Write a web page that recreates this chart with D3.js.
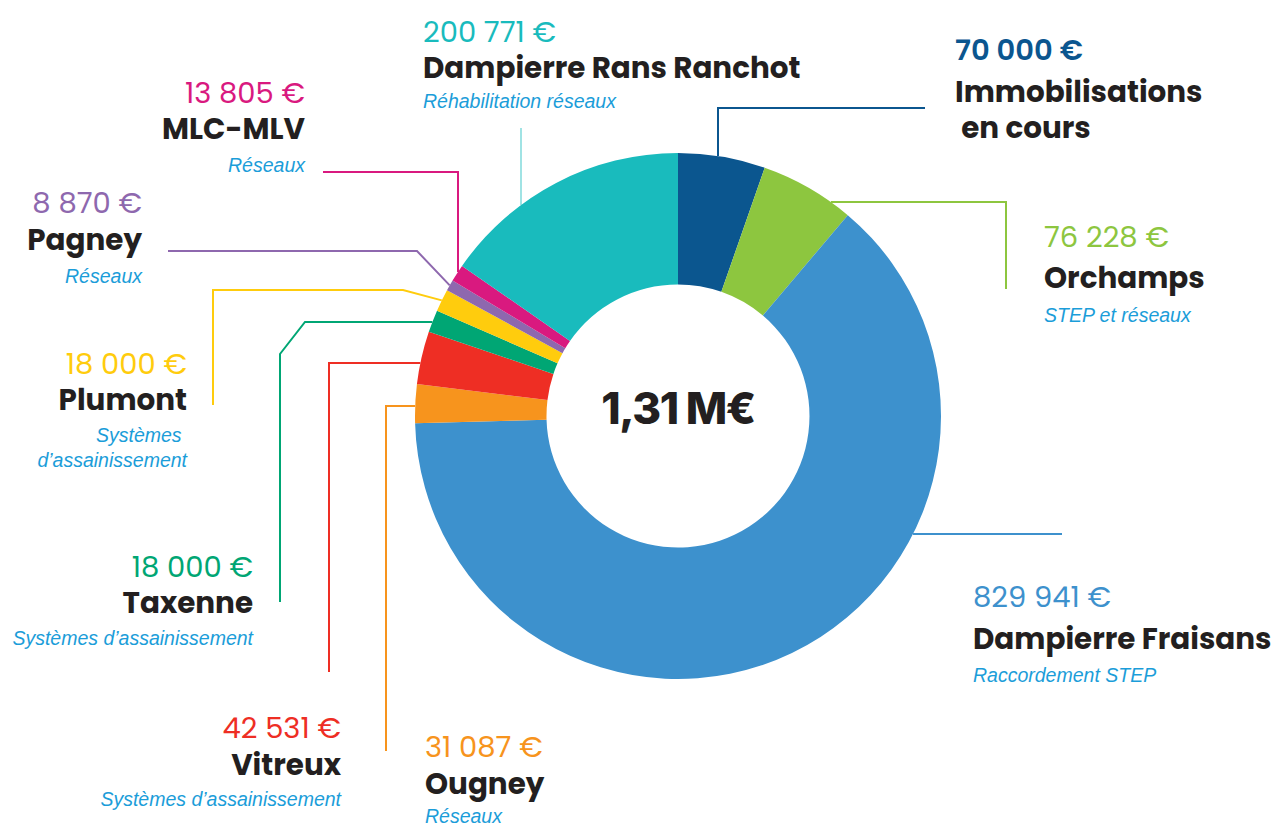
<!DOCTYPE html>
<html>
<head>
<meta charset="utf-8">
<script src="https://cdn.jsdelivr.net/npm/d3@7"></script>
<style>
  body { margin: 0; background: #fff; }
  .value { font-family: Poppins, Inter, sans-serif; font-size: 29px; font-weight: 400; }
  .name { font-family: Poppins, Inter, sans-serif; font-size: 29.4px; font-weight: 700; fill: #231f20; }
  .sub { font-family: "Liberation Sans", Arial, sans-serif; font-size: 19.5px; font-style: italic; fill: #1b9dd9; }
  .total { font-family: Inter, sans-serif; font-size: 44px; font-weight: 800; fill: #231f20; letter-spacing: -1.5px; }
</style>
</head>
<body>
<div id="chart"></div>
<script>
// slices, clockwise from 12 o'clock
var names = [
  ["Immobilisations", "\u00a0en cours"],
  ["Orchamps"],
  ["Dampierre Fraisans"],
  ["Ougney"],
  ["Vitreux"],
  ["Taxenne"],
  ["Plumont"],
  ["Pagney"],
  ["MLC-MLV"],
  ["Dampierre Rans Ranchot"]
];
var values = [70000, 76228, 829941, 31087, 42531, 18000, 18000, 8870, 13805, 200771];
var subtitles = [
  [],
  ["STEP et réseaux"],
  ["Raccordement STEP"],
  ["Réseaux"],
  ["Systèmes d’assainissement"],
  ["Systèmes d’assainissement"],
  ["Systèmes\u00a0", "d’assainissement"],
  ["Réseaux"],
  ["Réseaux"],
  ["Réhabilitation réseaux"]
];
var colors = ["#0b568f", "#8dc63f", "#3d91cd", "#f7941d", "#ee2e24",
  "#00a674", "#ffcc0d", "#8e68ae", "#d9197f", "#19bbbd"];

var width = 1273,
  height = 825,
  cx = 678,
  cy = 416,
  outerR = 263,
  innerR = 131.5;

// label placement + leader routes (page coordinates)
// start: "v" = vertical line at x, "h" = horizontal line at y, "mid" = slice middle
var layout = [
  { x: 955, ys: [60, 102, 138, 0], anchor: "start", bold: true,
    start: { type: "v", at: 718 }, route: [[718, 108], [925, 108]] },
  { x: 1044, ys: [247, 288, 322], anchor: "start",
    start: { type: "h", at: 202 }, route: [[1006, 202], [1006, 289]] },
  { x: 973, ys: [607, 649, 682], anchor: "start",
    start: { type: "h", at: 534 }, route: [[1062, 534]] },
  { x: 425, ys: [757, 794, 823], anchor: "start",
    start: { type: "h", at: 406 }, route: [[386, 406], [386, 751]] },
  { x: 341, ys: [738, 775, 806], anchor: "end",
    start: { type: "h", at: 363 }, route: [[329, 363], [329, 672]] },
  { x: 253, ys: [577, 613, 645], anchor: "end",
    start: { type: "h", at: 322 }, route: [[305, 322], [280, 354], [280, 602]] },
  { x: 187, ys: [374, 410, 442, 467], anchor: "end",
    start: { type: "mid" }, route: [[403, 290], [213, 290], [213, 405]] },
  { x: 142, ys: [213, 250, 283], anchor: "end",
    start: { type: "mid" }, route: [[417, 251], [168, 251]] },
  { x: 305, ys: [103, 139, 172], anchor: "end",
    start: { type: "v", at: 458 }, route: [[458, 172], [323, 172]] },
  { x: 423, ys: [42, 78, 108], anchor: "start", light: true,
    start: { type: "v", at: 521 }, route: [[521, 128]] }
];

var fr = d3.formatLocale({ decimal: ",", thousands: "\u00a0", grouping: [3], currency: ["", " €"] });

function drawChart() {
  var svg = d3.select("#chart").append("svg")
      .attr("width", width)
      .attr("height", height),
    pie = d3.pie().sort(null).value(function(d) { return d; }),
    arcs = pie(values),
    arc = d3.arc().innerRadius(innerR).outerRadius(outerR),
    line = d3.line(),
    total = d3.sum(values);

  var g = svg.append("g")
    .attr("transform", "translate(" + cx + "," + cy + ")");

  g.selectAll("path.slice")
    .data(arcs)
    .enter().append("path")
    .attr("class", "slice")
    .attr("d", arc)
    .attr("fill", function(d, i) { return colors[i]; });

  g.append("text")
    .attr("class", "total")
    .attr("text-anchor", "middle")
    .attr("y", 8)
    .text(fr.format(",.2f")(total / 1e6) + "\u00a0M€");

  // first point of each leader sits on the outer edge of its slice
  function startPoint(d, i) {
    var s = layout[i].start, a;
    if (s.type === "h") {
      var dy = s.at - cy,
        dx = Math.sqrt(outerR * outerR - dy * dy),
        side = (d.startAngle + d.endAngle) / 2 > Math.PI ? -1 : 1;
      return [cx + side * dx, s.at];
    }
    if (s.type === "v") {
      var ddx = s.at - cx;
      return [s.at, cy - Math.sqrt(outerR * outerR - ddx * ddx)];
    }
    a = (d.startAngle + d.endAngle) / 2;
    return [cx + outerR * Math.sin(a), cy - outerR * Math.cos(a)];
  }

  svg.selectAll("path.leader")
    .data(arcs)
    .enter().append("path")
    .attr("class", "leader")
    .attr("fill", "none")
    .attr("stroke", function(d, i) { return colors[i]; })
    .attr("stroke-opacity", function(d, i) { return layout[i].light ? 0.55 : 1; })
    .attr("stroke-width", function(d, i) { return layout[i].light ? 1.5 : 2; })
    .attr("d", function(d, i) {
      return line([startPoint(d, i)].concat(layout[i].route));
    });

  var labels = svg.selectAll("g.label")
    .data(values)
    .enter().append("g")
    .attr("class", "label")
    .attr("text-anchor", function(d, i) { return layout[i].anchor; });

  labels.append("text")
    .attr("class", "value")
    .attr("x", function(d, i) { return layout[i].x; })
    .attr("y", function(d, i) { return layout[i].ys[0]; })
    .attr("fill", function(d, i) { return colors[i]; })
    .style("font-weight", function(d, i) { return layout[i].bold ? 600 : null; })
    .text(function(d) { return fr.format(",")(d) + "\u00a0€"; });

  labels.each(function(d, i) {
    var el = d3.select(this),
      L = layout[i],
      k = 1;
    names[i].forEach(function(t) {
      el.append("text")
        .attr("class", "name")
        .attr("x", L.x)
        .attr("y", L.ys[k++])
        .text(t);
    });
    subtitles[i].forEach(function(t) {
      el.append("text")
        .attr("class", "sub")
        .attr("x", L.x)
        .attr("y", L.ys[k++])
        .text(t);
    });
  });
}

drawChart();
</script>
</body>
</html>
